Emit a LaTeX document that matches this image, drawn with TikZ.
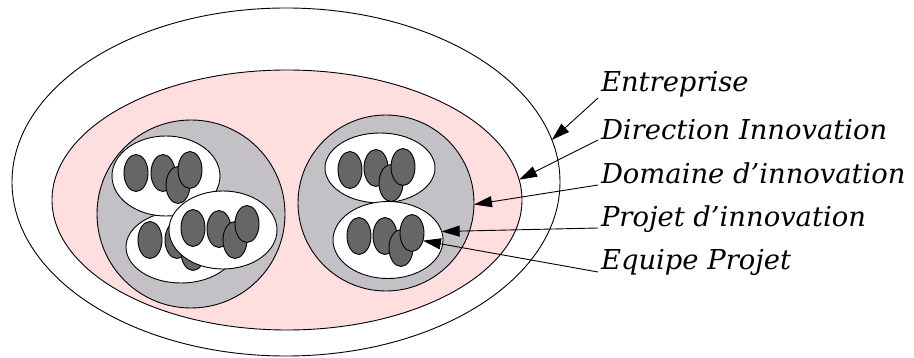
\documentclass[tikz,border=0pt]{standalone}
\usepackage{fontspec}
\setmainfont{DejaVu Serif}
\usetikzlibrary{shapes.geometric,arrows.meta}
\definecolor{pinkfill}{RGB}{255,222,224}
\definecolor{grayfill}{RGB}{196,193,198}
\definecolor{darkfill}{RGB}{102,102,102}
\begin{document}
\begin{tikzpicture}[x=1pt,y=-1pt,
  every node/.style={inner sep=0pt, outer sep=0pt},
  ell/.style={draw=black, line width=0.9pt, ellipse},
  company/.style={ell, fill=white, minimum width=548pt, minimum height=348pt},
  direction/.style={ell, fill=pinkfill, minimum width=470pt, minimum height=260pt},
  domain/.style={ell, fill=grayfill, minimum width=#1, minimum height=#1},
  project/.style={ell, fill=white},
  person/.style={ell, fill=darkfill, minimum width=24pt, minimum height=37pt},
  lbl/.style={font=\fontsize{27.4}{32}\selectfont\itshape, anchor=base west},
  pointer/.style={line width=0.9pt, -{Triangle[length=18pt,width=11pt]}}
]
\useasboundingbox (0,0) rectangle (914,358);

% levels
\node[company] (outer) at (286,182) {};
\node[direction] (pink) at (287,200) {};
\node[domain=188pt] (domL) at (191,214) {};
\node[domain=176pt] (domR) at (386,203) {};

% left domain: back project
\node[project, minimum width=110pt, minimum height=72pt] (pLb) at (181,247) {};
\node[person] (pLb1) at (150,240) {};
\node[person] (pLb2) at (177,240) {};
\node[person] (pLb3) at (193,252) {};
\node[person] (pLb4) at (205,237) {};
% left domain: top project
\node[project, minimum width=108pt, minimum height=80pt] (pLt) at (166,176) {};
\node[person] (pLt1) at (136,173) {};
\node[person] (pLt2) at (163,173) {};
\node[person] (pLt3) at (178,185) {};
\node[person] (pLt4) at (190,170) {};
% left domain: front project
\node[project, minimum width=108pt, minimum height=78pt] (pLf) at (223,230) {};
\node[person] (pLf1) at (193,228) {};
\node[person] (pLf2) at (219,229) {};
\node[person] (pLf3) at (235,240) {};
\node[person] (pLf4) at (247,224) {};

% right domain: top project
\node[project, minimum width=110pt, minimum height=70pt] (pRt) at (380,168) {};
\node[person] (pRt1) at (350,170) {};
\node[person] (pRt2) at (376,168) {};
\node[person] (pRt3) at (391,183) {};
\node[person] (pRt4) at (403,167) {};
% right domain: bottom project
\node[project, minimum width=110pt, minimum height=77pt] (pRb) at (388,240) {};
\node[person] (pRb1) at (359,236) {};
\node[person] (pRb2) at (385,236) {};
\node[person] (pRb3) at (401,248) {};
\node[person] (pRb4) at (412,233) {};

% labels
\node[lbl] (tEnt) at (601,92) {Entreprise};
\node[lbl] (tDir) at (601,140) {Direction Innovation};
\node[lbl] (tDom) at (601,184) {Domaine d’innovation};
\node[lbl] (tPro) at (601,227) {Projet d’innovation};
\node[lbl] (tEqu) at (601,270) {Equipe Projet};

% pointers
\draw[pointer] ([shift={(-3,6)}]tEnt.base west) -- (outer.9);
\draw[pointer] ([shift={(-3,0)}]tDir.base west) -- (pink.5);
\draw[pointer] ([shift={(-3,1)}]tDom.base west) -- (domR.-1);
\draw[pointer] ([shift={(-3,1)}]tPro.base west) -- (pRb.9);
\draw[pointer] ([shift={(-3,2)}]tEqu.base west) -- (pRb4.-35);
\end{tikzpicture}
\end{document}
